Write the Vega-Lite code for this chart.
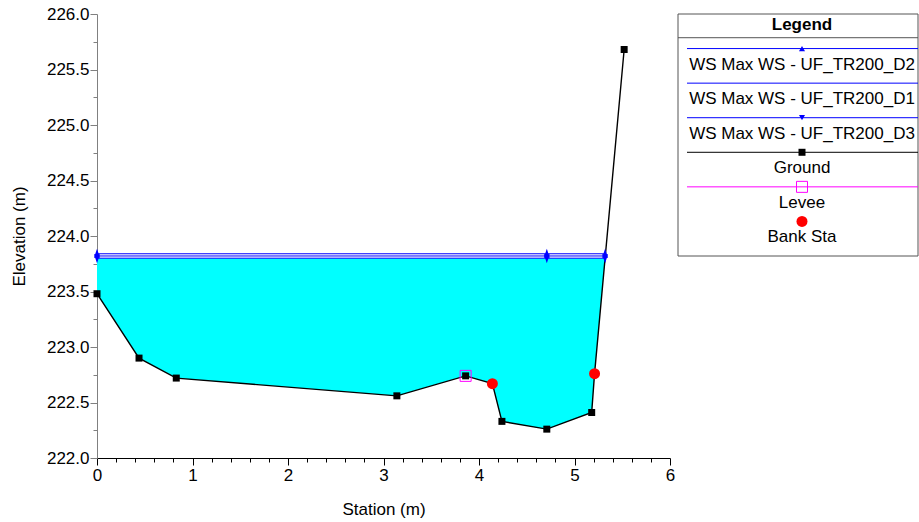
{
  "$schema": "https://vega.github.io/schema/vega-lite/v6.json",
  "width": 573,
  "height": 444,
  "autosize": {"type": "none"},
  "padding": {"left": 97, "top": 14, "right": 249, "bottom": 64},
  "background": "white",
  "config": {
    "view": {"stroke": null},
    "font": "Liberation Sans",
    "axis": {
      "grid": false,
      "labelFont": "Liberation Sans",
      "titleFont": "Liberation Sans",
      "labelFontSize": 17,
      "titleFontSize": 17,
      "titleFontWeight": "normal",
      "labelColor": "black",
      "titleColor": "black"
    }
  },
  "datasets": {
    "ground": [
      {"station": 0.0, "elev": 223.48},
      {"station": 0.44, "elev": 222.9},
      {"station": 0.83, "elev": 222.72},
      {"station": 3.14, "elev": 222.56},
      {"station": 3.86, "elev": 222.74},
      {"station": 4.14, "elev": 222.67},
      {"station": 4.24, "elev": 222.33},
      {"station": 4.71, "elev": 222.26},
      {"station": 5.18, "elev": 222.41},
      {"station": 5.21, "elev": 222.76},
      {"station": 5.52, "elev": 225.68}
    ],
    "fill": [
      {"station": 0.0, "bottom": 223.48, "top": 223.8},
      {"station": 0.44, "bottom": 222.9, "top": 223.8},
      {"station": 0.83, "bottom": 222.72, "top": 223.8},
      {"station": 3.14, "bottom": 222.56, "top": 223.8},
      {"station": 3.86, "bottom": 222.74, "top": 223.8},
      {"station": 4.14, "bottom": 222.67, "top": 223.8},
      {"station": 4.24, "bottom": 222.33, "top": 223.8},
      {"station": 4.71, "bottom": 222.26, "top": 223.8},
      {"station": 5.18, "bottom": 222.41, "top": 223.8},
      {"station": 5.21, "bottom": 222.76, "top": 223.8},
      {"station": 5.32, "bottom": 223.8, "top": 223.8}
    ],
    "ws": [
      {"profile": "UF_TR200_D2", "station": 0.0, "elev": 223.84},
      {"profile": "UF_TR200_D2", "station": 4.71, "elev": 223.84},
      {"profile": "UF_TR200_D2", "station": 5.32, "elev": 223.84},
      {"profile": "UF_TR200_D1", "station": 0.0, "elev": 223.82},
      {"profile": "UF_TR200_D1", "station": 4.71, "elev": 223.82},
      {"profile": "UF_TR200_D1", "station": 5.32, "elev": 223.82},
      {"profile": "UF_TR200_D3", "station": 0.0, "elev": 223.8},
      {"profile": "UF_TR200_D3", "station": 4.71, "elev": 223.8},
      {"profile": "UF_TR200_D3", "station": 5.32, "elev": 223.8}
    ],
    "levee": [{"station": 3.86, "elev": 222.74}],
    "bank": [
      {"station": 4.14, "elev": 222.67},
      {"station": 5.21, "elev": 222.76}
    ],
    "legend": [
      {"label": "WS Max WS - UF_TR200_D2", "slot": 1},
      {"label": "WS Max WS - UF_TR200_D1", "slot": 2},
      {"label": "WS Max WS - UF_TR200_D3", "slot": 3},
      {"label": "Ground", "slot": 4},
      {"label": "Levee", "slot": 5},
      {"label": "Bank Sta", "slot": 6}
    ]
  },
  "layer": [
    {
      "layer": [
        {
          "data": {"name": "fill"},
          "mark": {"type": "area", "color": "#00FFFF", "opacity": 1},
          "encoding": {
            "x": {
              "field": "station", "type": "quantitative",
              "scale": {"domain": [0, 6], "nice": false, "zero": false},
              "axis": {
                "title": "Station (m)",
                "values": [0,0.2,0.4,0.6,0.8,1,1.2,1.4,1.6,1.8,2,2.2,2.4,2.6,2.8,3,3.2,3.4,3.6,3.8,4,4.2,4.4,4.6,4.8,5,5.2,5.4,5.6,5.8,6],
                "tickCount": 200,
                "labelExpr": "abs(datum.value - round(datum.value)) < 0.001 ? format(datum.value, 'd') : ''",
                "tickSize": {"condition": {"test": "abs(datum.value - round(datum.value)) > 0.001", "value": 4}, "value": 7},
                "labelFlush": false,
                "labelOverlap": false,
                "domainColor": "black",
                "tickColor": "black",
                "labelPadding": 2,
                "titlePadding": 18
              }
            },
            "y": {
              "field": "top", "type": "quantitative",
              "scale": {"domain": [222, 226], "nice": false, "zero": false},
              "axis": {
                "title": "Elevation (m)",
                "values": [222,222.25,222.5,222.75,223,223.25,223.5,223.75,224,224.25,224.5,224.75,225,225.25,225.5,225.75,226],
                "tickCount": 200,
                "labelExpr": "abs(datum.value*2 - round(datum.value*2)) < 0.001 ? format(datum.value, '.1f') : ''",
                "tickSize": {"condition": {"test": "abs(datum.value*2 - round(datum.value*2)) > 0.001", "value": 4}, "value": 7},
                "labelOverlap": false,
                "domainColor": "#808080",
                "tickColor": "#808080",
                "labelPadding": 1,
                "titlePadding": 18
              }
            },
            "y2": {"field": "bottom"}
          }
        },
        {
          "data": {"name": "ws"},
          "mark": {"type": "line", "color": "#0000FF", "strokeWidth": 1},
          "encoding": {
            "x": {"field": "station", "type": "quantitative"},
            "y": {"field": "elev", "type": "quantitative"},
            "detail": {"field": "profile"}
          }
        },
        {
          "data": {"name": "ground"},
          "mark": {"type": "line", "color": "black", "strokeWidth": 1.4,
                   "point": {"shape": "square", "size": 49, "filled": true, "color": "black"}},
          "encoding": {
            "x": {"field": "station", "type": "quantitative"},
            "y": {"field": "elev", "type": "quantitative"}
          }
        },
        {
          "data": {"name": "levee"},
          "mark": {"type": "point", "shape": "square", "size": 121, "filled": false, "stroke": "#FF00FF", "strokeWidth": 1, "opacity": 1},
          "encoding": {
            "x": {"field": "station", "type": "quantitative"},
            "y": {"field": "elev", "type": "quantitative"}
          }
        },
        {
          "data": {"name": "bank"},
          "mark": {"type": "point", "shape": "circle", "size": 121, "filled": true, "color": "#FF0000", "opacity": 1},
          "encoding": {
            "x": {"field": "station", "type": "quantitative"},
            "y": {"field": "elev", "type": "quantitative"}
          }
        },
        {
          "data": {"name": "ws"},
          "transform": [{"filter": "datum.profile === 'UF_TR200_D2'"}],
          "mark": {"type": "point", "shape": "M0,-1L0.6,0.8L-0.6,0.8Z", "size": 100, "filled": true, "color": "#0000FF", "opacity": 1},
          "encoding": {
            "x": {"field": "station", "type": "quantitative"},
            "y": {"field": "elev", "type": "quantitative"}
          }
        },
        {
          "data": {"name": "ws"},
          "transform": [{"filter": "datum.profile === 'UF_TR200_D3'"}],
          "mark": {"type": "point", "shape": "M0,1L0.6,-0.8L-0.6,-0.8Z", "size": 100, "filled": true, "color": "#0000FF", "opacity": 1},
          "encoding": {
            "x": {"field": "station", "type": "quantitative"},
            "y": {"field": "elev", "type": "quantitative"}
          }
        }
      ]
    },
    {
      "layer": [
        {
          "data": {"values": [{}]},
          "mark": {"type": "rect", "fill": "white", "stroke": "#555555", "strokeWidth": 1},
          "encoding": {
            "x": {"datum": 0, "type": "quantitative", "scale": {"domain": [0, 240], "range": [581, 821]}, "axis": null},
            "x2": {"datum": 240},
            "y": {"datum": 0, "type": "quantitative", "scale": {"domain": [0, 7], "range": [0, 242]}, "axis": null},
            "y2": {"datum": 7}
          }
        },
        {
          "data": {"values": [{"t": "Legend"}]},
          "mark": {"type": "text", "font": "Liberation Sans", "fontSize": 17, "fontWeight": "bold", "align": "center", "baseline": "middle", "color": "black"},
          "encoding": {
            "x": {"datum": 124, "type": "quantitative"},
            "y": {"datum": 0.32, "type": "quantitative"},
            "text": {"field": "t"}
          }
        },
        {
          "data": {"values": [{}]},
          "mark": {"type": "rule", "color": "#555555", "strokeWidth": 1},
          "encoding": {
            "x": {"datum": 0, "type": "quantitative"},
            "x2": {"datum": 240},
            "y": {"datum": 0.686, "type": "quantitative"}
          }
        },
        {
          "data": {"name": "legend"},
          "transform": [{"filter": "datum.label !== 'Bank Sta'"}],
          "mark": {"type": "rule", "strokeWidth": 1},
          "encoding": {
            "x": {"datum": 9, "type": "quantitative"},
            "x2": {"datum": 240},
            "y": {"field": "slot", "type": "quantitative"},
            "color": {
              "field": "label", "type": "nominal",
              "scale": {
                "domain": ["WS Max WS - UF_TR200_D2", "WS Max WS - UF_TR200_D1", "WS Max WS - UF_TR200_D3", "Ground", "Levee", "Bank Sta"],
                "range": ["#0000FF", "#0000FF", "#0000FF", "#000000", "#FF00FF", "#FF0000"]
              },
              "legend": null
            }
          }
        },
        {
          "data": {"name": "legend"},
          "transform": [{"filter": "datum.label === 'WS Max WS - UF_TR200_D2'"}],
          "mark": {"type": "point", "shape": "triangle-up", "size": 36, "filled": true, "color": "#0000FF", "opacity": 1},
          "encoding": {
            "x": {"datum": 124, "type": "quantitative"},
            "y": {"field": "slot", "type": "quantitative"}
          }
        },
        {
          "data": {"name": "legend"},
          "transform": [{"filter": "datum.label === 'WS Max WS - UF_TR200_D3'"}],
          "mark": {"type": "point", "shape": "triangle-down", "size": 36, "filled": true, "color": "#0000FF", "opacity": 1},
          "encoding": {
            "x": {"datum": 124, "type": "quantitative"},
            "y": {"field": "slot", "type": "quantitative"}
          }
        },
        {
          "data": {"name": "legend"},
          "transform": [{"filter": "datum.label === 'Ground'"}],
          "mark": {"type": "point", "shape": "square", "size": 49, "filled": true, "color": "black", "opacity": 1},
          "encoding": {
            "x": {"datum": 124, "type": "quantitative"},
            "y": {"field": "slot", "type": "quantitative"}
          }
        },
        {
          "data": {"name": "legend"},
          "transform": [{"filter": "datum.label === 'Levee'"}],
          "mark": {"type": "point", "shape": "square", "size": 121, "filled": false, "stroke": "#FF00FF", "strokeWidth": 1, "opacity": 1},
          "encoding": {
            "x": {"datum": 124, "type": "quantitative"},
            "y": {"field": "slot", "type": "quantitative"}
          }
        },
        {
          "data": {"name": "legend"},
          "transform": [{"filter": "datum.label === 'Bank Sta'"}],
          "mark": {"type": "point", "shape": "circle", "size": 121, "filled": true, "color": "#FF0000", "opacity": 1},
          "encoding": {
            "x": {"datum": 124, "type": "quantitative"},
            "y": {"field": "slot", "type": "quantitative"}
          }
        },
        {
          "data": {"name": "legend"},
          "mark": {"type": "text", "font": "Liberation Sans", "fontSize": 17, "align": "center", "baseline": "middle", "dy": 16, "color": "black"},
          "encoding": {
            "x": {"datum": 124, "type": "quantitative"},
            "y": {"field": "slot", "type": "quantitative"},
            "text": {"field": "label"}
          }
        }
      ]
    }
  ],
  "resolve": {"scale": {"x": "independent", "y": "independent", "color": "independent", "shape": "independent"}}
}
